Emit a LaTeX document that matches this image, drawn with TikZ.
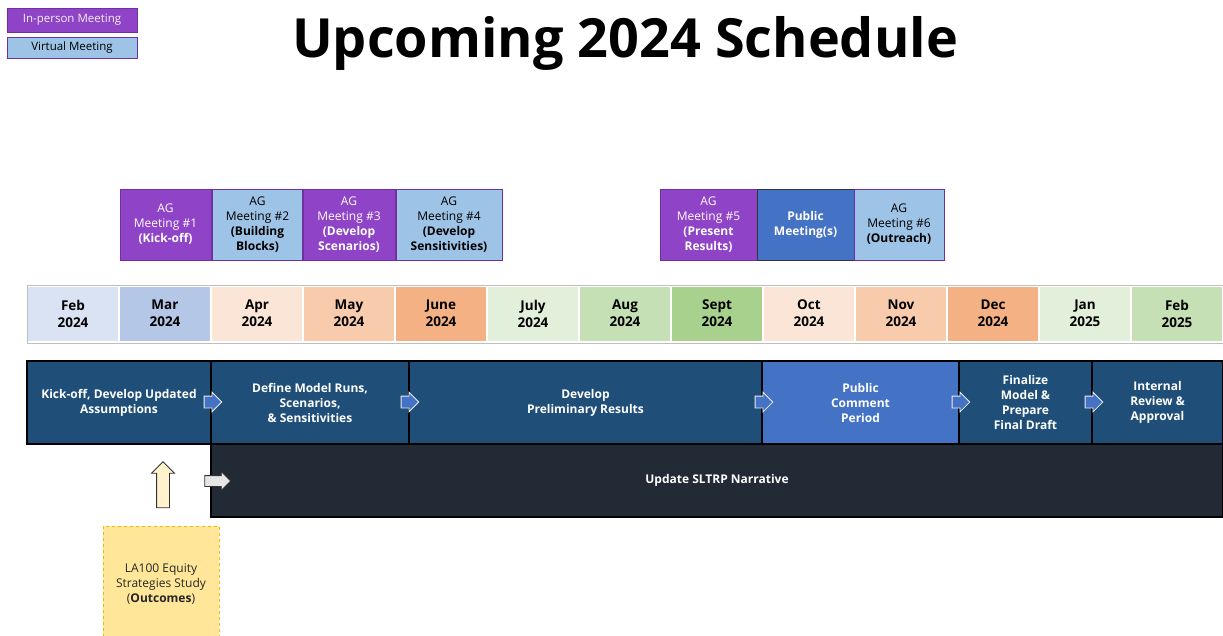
\documentclass[tikz,border=0pt]{standalone}
\usepackage{fontspec}
\setmainfont{Open Sans}
\usetikzlibrary{shapes.arrows}
\definecolor{purp}{HTML}{8F43C7}
\definecolor{purpline}{HTML}{7030A0}
\definecolor{lblue}{HTML}{9DC3E6}
\definecolor{mblue}{HTML}{4472C4}
\definecolor{navy}{HTML}{1F4E79}
\definecolor{darkbar}{HTML}{222A35}
\definecolor{cFeb}{HTML}{DAE3F3}
\definecolor{cMar}{HTML}{B4C7E7}
\definecolor{cOa}{HTML}{FBE5D6}
\definecolor{cOb}{HTML}{F8CBAD}
\definecolor{cOc}{HTML}{F4B183}
\definecolor{cGa}{HTML}{E2EFDA}
\definecolor{cGb}{HTML}{C5E0B4}
\definecolor{cGc}{HTML}{A9D18E}
\definecolor{gold}{HTML}{FFE699}
\definecolor{goldline}{HTML}{F2B800}
\definecolor{cream}{HTML}{FFF2CC}
\definecolor{lgray}{HTML}{E7E6E6}
\begin{document}
\begin{tikzpicture}[x=1pt,y=-1pt,
  box/.style={draw, rectangle, inner sep=0pt, align=center, font=\fontsize{12}{15}\selectfont},
  inperson/.style={box, fill=purp, draw=purpline, line width=0.8pt, text=white},
  virtual/.style={box, fill=lblue, draw=purpline, line width=0.8pt, text=black},
  month/.style={rectangle, inner sep=0pt, minimum width=90pt, minimum height=54pt, align=center, font=\fontsize{13.5}{17}\selectfont\bfseries},
  phase/.style={box, draw=black, line width=1.6pt, fill=navy, text=white, minimum height=83pt, font=\fontsize{12}{15}\selectfont\bfseries},
  flowarrow/.style={single arrow, draw=white!85!gray, line width=0.8pt, fill=mblue, inner sep=5.5pt, minimum height=16pt, single arrow head extend=4pt},
]
\useasboundingbox (0,0) rectangle (1223,635);
\clip (0,0) rectangle (1223,635);
% legend
\node[inperson, minimum width=130pt, minimum height=24pt, font=\fontsize{11.5}{14}\selectfont, text=white!90!gray] (lgA) at (72,20) {In-person Meeting};
\node[virtual, minimum width=130pt, minimum height=21pt, font=\fontsize{11.5}{14}\selectfont] (lgB) at (72,47.5) {Virtual Meeting};
% title
\node[font=\fontsize{54}{60}\selectfont\bfseries, inner sep=0pt] (title) at (625,43) {Upcoming 2024 Schedule};
% meetings
\node[inperson, minimum width=91pt, minimum height=71pt] (m1) at (165.5,224.5) {AG\\Meeting \#1\\\textbf{(Kick-off)}};
\node[virtual, minimum width=90pt, minimum height=71pt] (m2) at (257.5,224.5) {AG\\Meeting \#2\\\textbf{(Building}\\\textbf{Blocks)}};
\node[inperson, minimum width=92pt, minimum height=71pt] (m3) at (349,224.5) {AG\\Meeting \#3\\\textbf{(Develop}\\\textbf{Scenarios)}};
\node[virtual, minimum width=106pt, minimum height=71pt] (m4) at (449,224.5) {AG\\Meeting \#4\\\textbf{(Develop}\\\textbf{Sensitivities)}};
\node[inperson, minimum width=97pt, minimum height=71pt] (m5) at (708.5,224.5) {AG\\Meeting \#5\\\textbf{(Present}\\\textbf{Results)}};
\node[box, fill=mblue, draw=black!80, line width=1pt, text=white, minimum width=97pt, minimum height=71pt, font=\fontsize{12}{15}\selectfont\bfseries] (pm) at (805.5,224.5) {Public\\Meeting(s)};
\node[virtual, minimum width=90pt, minimum height=71pt] (m6) at (899,224.5) {AG\\Meeting \#6\\\textbf{(Outreach)}};
% month row frame
\draw[black!25, line width=1pt] (27,285) rectangle (1223,343);
\node[month, fill=cFeb] (mo1) at (73,313.5) {Feb\\2024};
\node[month, fill=cMar] (mo2) at (165,313.5) {Mar\\2024};
\node[month, fill=cOa] (mo3) at (257,313.5) {Apr\\2024};
\node[month, fill=cOb] (mo4) at (349,313.5) {May\\2024};
\node[month, fill=cOc] (mo5) at (441,313.5) {June\\2024};
\node[month, fill=cGa] (mo6) at (533,313.5) {July\\2024};
\node[month, fill=cGb] (mo7) at (625,313.5) {Aug\\2024};
\node[month, fill=cGc] (mo8) at (717,313.5) {Sept\\2024};
\node[month, fill=cOa] (mo9) at (809,313.5) {Oct\\2024};
\node[month, fill=cOb] (mo10) at (901,313.5) {Nov\\2024};
\node[month, fill=cOc] (mo11) at (993,313.5) {Dec\\2024};
\node[month, fill=cGa] (mo12) at (1085,313.5) {Jan\\2025};
\node[month, fill=cGb] (mo13) at (1177,313.5) {Feb\\2025};
% narrative bar
\node[box, draw=black, line width=1.6pt, fill=darkbar, text=white, minimum width=1012pt, minimum height=73pt, font=\fontsize{12}{15}\selectfont\bfseries] (nar) at (717,480.5) {Update SLTRP Narrative};
% phases
\node[phase, minimum width=184pt] (p1) at (119,402.5) {Kick-off, Develop Updated\\Assumptions};
\node[phase, minimum width=198pt] (p2) at (310,402.5) {Define Model Runs,\\Scenarios,\\\& Sensitivities};
\node[phase, minimum width=353pt] (p3) at (585.5,402.5) {Develop\\Preliminary Results};
\node[phase, minimum width=197pt, fill=mblue] (p4) at (860.5,402.5) {Public\\Comment\\Period};
\node[phase, minimum width=133pt] (p5) at (1025.5,402.5) {Finalize\\Model \&\\Prepare\\Final Draft};
\node[phase, minimum width=131pt] (p6) at (1157.5,402.5) {Internal\\Review \&\\Approval};
% flow arrows
\node[flowarrow] (a1) at (210,402) {};
\node[flowarrow] (a2) at (407,402) {};
\node[flowarrow] (a3) at (761,402) {};
\node[flowarrow] (a4) at (958,402) {};
\node[flowarrow] (a5) at (1091,402) {};
\node[single arrow, draw=black!80, line width=0.8pt, fill=lgray, inner sep=5pt, minimum height=26pt, single arrow head extend=4pt] (ga) at (215,481) {};
\node[single arrow, shape border rotate=90, draw=black!80, line width=0.8pt, fill=cream, inner sep=6pt, minimum height=46pt, single arrow head extend=5pt] (ua) at (163,488) {};
% LA100 box
\node[box, fill=gold, draw=goldline, dashed, line width=0.8pt, minimum width=116pt, minimum height=116pt, text=black!85, font=\fontsize{12}{15}\selectfont] (la) at (161,584) {LA100 Equity\\Strategies Study\\(\textbf{Outcomes})};
\end{tikzpicture}
\end{document}
